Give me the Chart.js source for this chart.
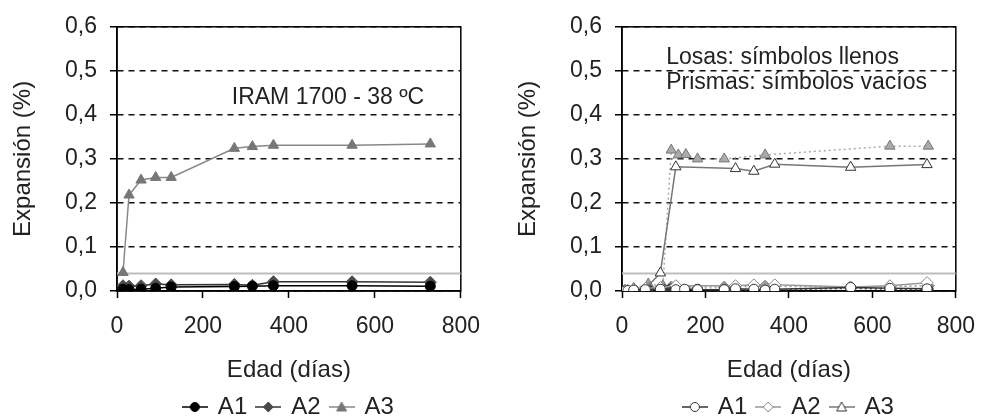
<!DOCTYPE html>
<html>
<head>
<meta charset="utf-8">
<script src="https://cdn.jsdelivr.net/npm/chart.js@4.4.0/dist/chart.umd.min.js"></script>
<style>
html,body{margin:0;padding:0;background:#fff;overflow:hidden;width:990px;height:417px}
.box{position:absolute;top:0;width:495px;height:429px}
#left{left:0}
#right{left:495px}
</style>
</head>
<body>
<div class="box" id="left"><canvas id="c1"></canvas></div>
<div class="box" id="right"><canvas id="c2"></canvas></div>
<script>
// axes
var xTicks = [0, 200, 400, 600, 800];
var yTickLabels = ['0,0', '0,1', '0,2', '0,3', '0,4', '0,5', '0,6'];
var limite = 0.04;

// left chart: IRAM 1700 - 38 ºC
var diasL = [14, 28, 56, 90, 126, 273, 315, 364, 547, 729];
var a1L = [0.004, 0.003, 0.004, 0.006, 0.009, 0.010, 0.011, 0.012, 0.012, 0.011];
var a2L = [0.012, 0.011, 0.012, 0.016, 0.014, 0.015, 0.013, 0.021, 0.021, 0.020];
var a3L = [0.042, 0.218, 0.252, 0.258, 0.258, 0.324, 0.328, 0.331, 0.331, 0.334];

// right chart: prismas (open symbols)
var diasP1 = [7, 14, 28, 56, 92, 129, 150, 181, 245, 272, 316, 343, 366, 548, 642, 731];
var a1P = [0.000, 0.001, 0.002, 0.003, 0.004, 0.003, 0.004, 0.003, 0.003, 0.005, 0.004, 0.002, 0.004, 0.008, 0.006, 0.005];
var diasP2 = [7, 28, 56, 92, 129, 272, 316, 366, 548, 642, 731];
var a2P = [0.001, 0.003, 0.006, 0.008, 0.012, 0.012, 0.014, 0.014, 0.009, 0.012, 0.019];
var diasP3 = [7, 14, 28, 56, 92, 129, 272, 316, 366, 548, 731];
var a3P = [0.000, 0.001, 0.002, 0.005, 0.041, 0.282, 0.278, 0.272, 0.288, 0.281, 0.287];

// right chart: losas (filled symbols)
var diasS1 = [7, 28, 63, 98, 118, 181, 245, 343, 548, 642, 734];
var a1S = [0.000, 0.002, 0.003, 0.004, 0.005, 0.004, 0.003, 0.002, 0.006, 0.004, 0.003];
var diasS2 = [7, 28, 63, 98, 118, 245, 343, 548, 642, 734];
var a2S = [0.001, 0.004, 0.008, 0.006, 0.009, 0.009, 0.011, 0.009, 0.010, 0.012];
var diasS3 = [7, 28, 63, 98, 118, 135, 153, 181, 245, 343, 642, 734];
var a3S = [0.002, 0.006, 0.016, 0.012, 0.320, 0.309, 0.310, 0.300, 0.300, 0.309, 0.329, 0.329];

Chart.defaults.font.family = '"Liberation Sans", Arial, sans-serif';
Chart.defaults.color = '#222';

function pts(xs, ys) {
  return xs.map(function (x, i) { return {x: x, y: ys[i]}; });
}

// little legend symbol: line with the marker in the middle
function sym(style, fill, stroke, line) {
  var c = document.createElement('canvas');
  c.width = 26; c.height = 14;
  var g = c.getContext('2d');
  g.strokeStyle = line; g.lineWidth = 1.5;
  g.beginPath(); g.moveTo(0, 7); g.lineTo(26, 7); g.stroke();
  g.fillStyle = fill; g.strokeStyle = stroke; g.lineWidth = 1;
  g.beginPath();
  if (style == 'circle') {
    g.arc(13, 7, 4.5, 0, Math.PI * 2);
  } else if (style == 'rectRot') {
    g.moveTo(13, 2); g.lineTo(18, 7); g.lineTo(13, 12); g.lineTo(8, 7); g.closePath();
  } else {
    g.moveTo(13, 2); g.lineTo(18, 11); g.lineTo(8, 11); g.closePath();
  }
  g.fill(); g.stroke();
  return c;
}

function serie(label, xs, ys, style, bg, border, line, dash, legend) {
  return {
    label: label,
    data: pts(xs, ys),
    pointStyle: style,
    pointRadius: style == 'circle' ? 5 : 6,
    pointBackgroundColor: bg,
    pointBorderColor: border,
    pointBorderWidth: 1,
    borderColor: line,
    borderWidth: 1.5,
    borderDash: dash,
    showLine: true,
    legendSym: legend ? sym(style, bg, border, line) : null
  };
}

function limitLine() {
  return {
    label: 'lim',
    data: pts([0, 800], [limite, limite]),
    borderColor: '#bdbdbd',
    borderWidth: 2,
    pointRadius: 0,
    legendSym: null
  };
}

var framePlugin = {
  id: 'frame',
  beforeDatasetsDraw: function (chart) {
    var a = chart.chartArea, ctx = chart.ctx;
    ctx.save();
    ctx.strokeStyle = '#000';
    ctx.lineWidth = 1.5;
    ctx.strokeRect(a.left, a.top, a.right - a.left, a.bottom - a.top);
    ctx.restore();
  }
};

var notesPlugin = {
  id: 'notes',
  afterDatasetsDraw: function (chart, args, opts) {
    var ctx = chart.ctx, sx = chart.scales.x, sy = chart.scales.y;
    ctx.save();
    ctx.font = '23px "Liberation Sans", Arial, sans-serif';
    ctx.fillStyle = '#222';
    ctx.textBaseline = 'middle';
    ctx.textAlign = 'left';
    (opts.items || []).forEach(function (n) {
      ctx.fillText(n.text, sx.getPixelForValue(n.x), sy.getPixelForValue(n.y));
    });
    ctx.restore();
  }
};

// keep the legend centred under the plot area
var legendCenter = {
  id: 'legendCenter',
  afterLayout: function (chart) {
    if (chart.legend) {
      chart.legend.left = chart.chartArea.left;
      chart.legend.right = chart.chartArea.right;
    }
  }
};

function makeChart(id, datasets, notes, yWidth, padRight, titlePad) {
  return new Chart(document.getElementById(id), {
    type: 'line',
    data: {datasets: datasets},
    plugins: [framePlugin, notesPlugin, legendCenter],
    options: {
      responsive: true,
      maintainAspectRatio: false,
      animation: false,
      layout: {padding: {top: 25, right: padRight, left: 0, bottom: 0}},
      scales: {
        x: {
          type: 'linear', min: 0, max: 800,
          afterBuildTicks: function (s) { s.ticks = xTicks.map(function (v) { return {value: v}; }); },
          ticks: {font: {size: 23}, padding: 15, maxRotation: 0, color: '#222'},
          grid: {drawOnChartArea: false, drawTicks: true, tickLength: 7, tickColor: '#000', tickWidth: 1.5},
          border: {display: true, color: '#000', width: 1.5},
          title: {display: true, text: 'Edad (días)', font: {size: 24}, color: '#222', padding: {top: 0, bottom: 0}},
          afterFit: function (s) { s.height = 94; }
        },
        y: {
          min: 0, max: 0.6,
          afterBuildTicks: function (s) {
            s.ticks = yTickLabels.map(function (t) { return {value: parseFloat(t.replace(',', '.'))}; });
          },
          ticks: {
            font: {size: 23}, padding: 13, color: '#222',
            callback: function (v) { return yTickLabels[Math.round(v * 10)]; }
          },
          grid: {color: '#111', lineWidth: 1.5, drawTicks: true, tickLength: 7, tickColor: '#000', tickWidth: 1.5, tickBorderDash: []},
          border: {display: true, color: '#000', width: 1.5, dash: [6, 5]},
          title: {display: true, text: 'Expansión (%)', font: {size: 24}, color: '#222', padding: {top: titlePad, bottom: 0}},
          afterFit: function (s) { s.width = yWidth; }
        }
      },
      plugins: {
        notes: {items: notes},
        tooltip: {enabled: false},
        legend: {
          position: 'bottom',
          labels: {
            usePointStyle: true,
            pointStyleWidth: 22,
            boxHeight: 14,
            padding: 10,
            color: '#222',
            font: {size: 24},
            generateLabels: function (chart) {
              var out = [];
              chart.data.datasets.forEach(function (d, i) {
                if (d.legendSym) {
                  out.push({text: d.label, pointStyle: d.legendSym, fillStyle: '#000', strokeStyle: '#000',
                    lineWidth: 0, hidden: false, datasetIndex: i, fontColor: '#222'});
                }
              });
              return out;
            }
          }
        }
      }
    }
  });
}

makeChart('c1', [
  serie('A1', diasL, a1L, 'circle', '#000', '#000', '#000', [], true),
  serie('A2', diasL, a2L, 'rectRot', '#4a4a4a', '#4a4a4a', '#333', [], true),
  serie('A3', diasL, a3L, 'triangle', '#777', '#777', '#888', [], true),
  limitLine()
], [{x: 267, y: 0.44, text: 'IRAM 1700 - 38 ºC'}], 117, 33, 9);

makeChart('c2', [
  serie('A1', diasP1, a1P, 'circle', '#fff', '#333', '#333', [], true),
  serie('A2', diasP2, a2P, 'rectRot', '#fff', '#888', '#999', [], true),
  serie('A3', diasP3, a3P, 'triangle', '#fff', '#333', '#777', [], true),
  serie('A1 losas', diasS1, a1S, 'circle', '#444', '#444', '#555', [2, 3], false),
  serie('A2 losas', diasS2, a2S, 'rectRot', '#999', '#888', '#999', [2, 3], false),
  serie('A3 losas', diasS3, a3S, 'triangle', '#aaa', '#777', '#aaa', [2, 3], false),
  limitLine()
], [
  {x: 106, y: 0.53, text: 'Losas: símbolos llenos'},
  {x: 106, y: 0.474, text: 'Prismas: símbolos vacíos'}
], 127, 23, 19);
</script>
</body>
</html>
